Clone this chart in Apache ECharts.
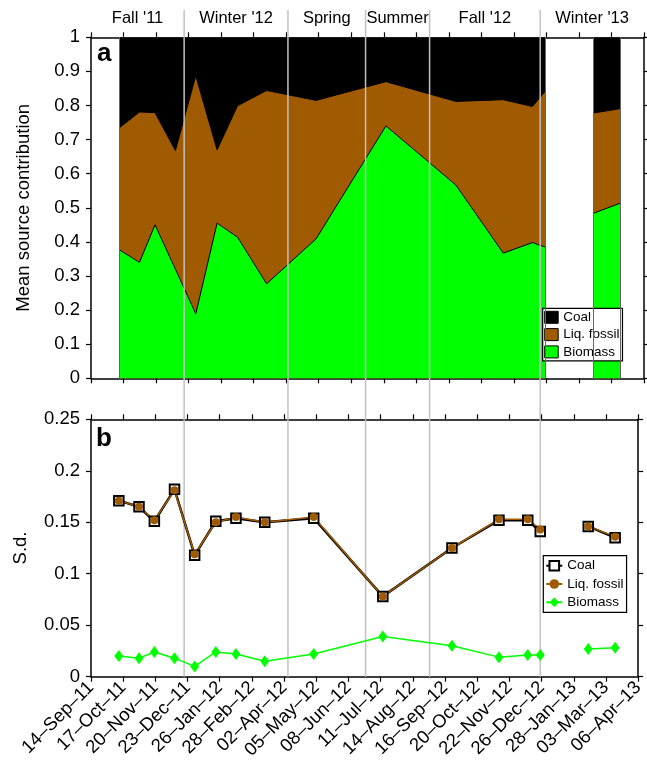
<!DOCTYPE html>
<html><head><meta charset="utf-8">
<script src="https://cdn.jsdelivr.net/npm/echarts@6/dist/echarts.min.js"></script>
<style>html,body{margin:0;padding:0;background:#fff}#c{width:647px;height:766px}</style>
</head><body><div id="c"></div>
<script>
// ---------------- DATA ----------------
const sampleDates = ['2011-10-13','2011-11-03','2011-11-19','2011-12-10','2011-12-31','2012-01-22','2012-02-12','2012-03-13','2012-05-03','2012-07-14','2012-09-24','2012-11-12','2012-12-12','2012-12-25','2013-01-15','2013-02-13','2013-03-13'];
// panel a: mean source contribution (fractions)
const biomass   = [0.377,0.340,0.450,0.320,0.189,0.455,0.414,0.277,0.409,0.740,0.567,0.367,0.398,0.385,null,0.484,0.514];
const liqFossil = [0.357,0.441,0.329,0.348,0.698,0.215,0.385,0.567,0.406,0.130,0.245,0.450,0.399,0.456,null,0.294,0.277];
const coal      = [0.266,0.219,0.221,0.332,0.113,0.330,0.201,0.156,0.185,0.130,0.188,0.183,0.203,0.159,null,0.222,0.209];
// panel b: standard deviations
const coalSd      = [0.171,0.165,0.151,0.182,0.118,0.151,0.154,0.150,0.154,0.078,0.125,0.152,0.152,0.141,null,0.146,0.135];
const liqFossilSd = [0.171,0.165,0.152,0.181,0.119,0.150,0.155,0.150,0.155,0.078,0.125,0.153,0.153,0.143,null,0.146,0.136];
const biomassSd   = [0.020,0.018,0.024,0.018,0.010,0.024,0.022,0.015,0.022,0.039,0.030,0.019,0.021,0.021,null,0.027,0.028];
// season boundaries and names
const seasonBounds = ['2011-12-19','2012-04-04','2012-06-23','2012-08-28','2012-12-20'];
const seasonNames = ["Fall '11","Winter '12","Spring","Summer","Fall '12","Winter '13"];
// axis
const axisStart = '2011-09-14', axisEnd = '2013-04-06';
const tickCount = 17;

// ---------------- HELPERS ----------------
function toMs(s){ const p = s.split('-').map(Number); return Date.UTC(p[0], p[1]-1, p[2]); }
const t0 = toMs(axisStart), t1 = toMs(axisEnd);
const unitMs = (t1 - t0) / tickCount;          // one x unit = one tick spacing
function toX(s){ return (toMs(s) - t0) / unitMs; }
const MON = ['Jan','Feb','Mar','Apr','May','Jun','Jul','Aug','Sep','Oct','Nov','Dec'];
function fmtDate(v){
  const d = new Date(t0 + v * unitMs + 60000);
  return String(d.getUTCDate()).padStart(2,'0') + '–' + MON[d.getUTCMonth()] + '–' + String(d.getUTCFullYear() % 100).padStart(2,'0');
}
function pairs(arr){ return sampleDates.map((d,i) => [toX(d), arr[i] == null ? '-' : arr[i]]); }
function cum(){ const arrs = Array.from(arguments); return sampleDates.map((d,i) => arrs.some(a => a[i]==null) ? null : arrs.reduce((s,a)=>s+a[i],0)); }

const FONT = 'Liberation Sans, Arial, Helvetica, sans-serif';
const BROWN = '#A05A00', GREEN = '#00FF00';

function xAx(gridIndex, position, showLabel){
  return {type:'value', gridIndex, position, min:0, max:tickCount, interval:1,
    axisLine:{show:true, onZero:false, lineStyle:{color:'#000', width:1.5}},
    axisTick:{show:true, inside:false, length:5, lineStyle:{color:'#000', width:1.2}},
    axisLabel:{show:showLabel, rotate:45, margin:8, fontSize:18.5, fontFamily:FONT, color:'#000', formatter:fmtDate},
    splitLine:{show:false}};
}
function yAx(gridIndex, position, min, max, interval, name, nameGap){
  const left = position === 'left';
  return {type:'value', gridIndex, position, min, max, interval,
    name: left ? name : '', nameLocation:'middle', nameGap, nameTextStyle:{fontSize:18.5, fontFamily:FONT, color:'#000'},
    axisLine:{show:true, onZero:false, lineStyle:{color:'#000', width:1.5}},
    axisTick:{show:true, inside:false, length:5, lineStyle:{color:'#000', width:1.2}},
    axisLabel:{show:left, margin:11, fontSize:18.5, fontFamily:FONT, color:'#000'},
    splitLine:{show:false}};
}

// edges of data runs (for thin patch-edge lines in panel a)
const edges = [];
biomass.forEach((v,i) => {
  if (v == null) return;
  if (i === 0 || biomass[i-1] == null) edges.push(sampleDates[i]);
  if (i === biomass.length-1 || biomass[i+1] == null) edges.push(sampleDates[i]);
});

const topAll = cum(biomass, liqFossil, coal);
const topLiq = cum(biomass, liqFossil);

const chart = echarts.init(document.getElementById('c'), null, {renderer:'canvas'});
const option = {
  animation:false,
  backgroundColor:'#fff',
  textStyle:{fontFamily:FONT},
  grid:[
    {left:91, right:3, top:37.3, height:341},
    {left:91, right:3, top:419.3, height:257.4}
  ],
  xAxis:[ xAx(0,'bottom',false), xAx(0,'top',false), xAx(1,'bottom',true), xAx(1,'top',false) ],
  yAxis:[
    yAx(0,'left',0,1,0.1,'Mean source contribution',58),
    yAx(0,'right',0,1,0.1,'',0),
    yAx(1,'left',0,0.25,0.05,'S.d.',61),
    yAx(1,'right',0,0.25,0.05,'',0)
  ],
  legend:[
    {left:542.7, top:308.3, orient:'vertical', selectedMode:false,
     backgroundColor:'#fff', borderColor:'#000', borderWidth:1.2, borderRadius:0,
     padding:[2,3,2,1.5], itemWidth:13.5, itemHeight:12, itemGap:3.3,
     textStyle:{fontSize:13.5, fontFamily:FONT, color:'#000'},
     formatter: n => n.trim(),
     data:[
       {name:'Coal', icon:'rect', itemStyle:{color:'#000', borderColor:'#000', borderWidth:1}},
       {name:'Liq. fossil', icon:'rect', itemStyle:{color:BROWN, borderColor:'#000', borderWidth:1}},
       {name:'Biomass', icon:'rect', itemStyle:{color:GREEN, borderColor:'#000', borderWidth:1}}
     ]},
    {left:543.3, top:555.7, orient:'vertical', selectedMode:false,
     backgroundColor:'#fff', borderColor:'#000', borderWidth:1.2, borderRadius:0,
     padding:[3,3,3,2], itemWidth:16, itemHeight:12, itemGap:4.3,
     textStyle:{fontSize:13.5, fontFamily:FONT, color:'#000'},
     formatter: n => n.trim(),
     data:['Coal ','Liq. fossil ','Biomass ']}
  ],
  series:[
    {name:'Coal', type:'line', xAxisIndex:0, yAxisIndex:0, data:pairs(topAll), symbol:'none',
     itemStyle:{color:'#000'}, lineStyle:{width:0, color:'#000'}, areaStyle:{color:'#000', opacity:1, origin:'start'}},
    {name:'Liq. fossil', type:'line', xAxisIndex:0, yAxisIndex:0, data:pairs(topLiq), symbol:'none',
     itemStyle:{color:BROWN}, lineStyle:{width:1, color:'#000'}, areaStyle:{color:BROWN, opacity:1, origin:'start'}},
    {name:'Biomass', type:'line', xAxisIndex:0, yAxisIndex:0, data:pairs(biomass), symbol:'none',
     itemStyle:{color:GREEN}, lineStyle:{width:1, color:'#000'}, areaStyle:{color:GREEN, opacity:1, origin:'start'},
     markLine:{silent:true, symbol:'none', label:{show:false}, lineStyle:{color:'#666', width:1, type:'solid'},
       data: edges.map(d => [{coord:[toX(d),0]},{coord:[toX(d),1]}])}},
    {name:'Coal ', type:'line', xAxisIndex:2, yAxisIndex:2, data:pairs(coalSd), symbol:'rect', symbolSize:9.5,
     itemStyle:{color:'#fff', borderColor:'#000', borderWidth:2}, lineStyle:{color:'#000', width:2.5}},
    {name:'Liq. fossil ', type:'line', xAxisIndex:2, yAxisIndex:2, data:pairs(liqFossilSd), symbol:'circle', symbolSize:8,
     itemStyle:{color:BROWN, borderColor:BROWN, borderWidth:0}, lineStyle:{color:BROWN, width:1.5}},
    {name:'Biomass ', type:'line', xAxisIndex:2, yAxisIndex:2, data:pairs(biomassSd), symbol:'diamond', symbolSize:[9,12],
     itemStyle:{color:GREEN}, lineStyle:{color:GREEN, width:1.5}}
  ]
};
chart.setOption(option);

// season lines and labels (positions from the axis scale)
const gtop1 = chart.convertToPixel({yAxisIndex:2}, 0.25);
const gbot1 = chart.convertToPixel({yAxisIndex:2}, 0);
const bx = [0].concat(seasonBounds.map(toX)).concat([tickCount]);
const graphics = [];
seasonBounds.forEach(b => {
  const x = chart.convertToPixel({xAxisIndex:0}, toX(b));
  graphics.push({type:'line', silent:true, z:100, shape:{x1:x, y1:10, x2:x, y2:gtop1}, style:{stroke:'#c2c2c2', lineWidth:1.5}});
  graphics.push({type:'line', silent:true, z:1, shape:{x1:x, y1:gtop1, x2:x, y2:gbot1}, style:{stroke:'#c2c2c2', lineWidth:1.5}});
});
seasonNames.forEach((n,i) => {
  const xa = chart.convertToPixel({xAxisIndex:0}, bx[i]);
  const xb = chart.convertToPixel({xAxisIndex:0}, bx[i+1]);
  graphics.push({type:'text', silent:true, z:100, x:(xa+xb)/2, y:18.5,
    style:{text:n, fontSize:16.5, fontFamily:FONT, fill:'#000', align:'center', verticalAlign:'middle'}});
});
graphics.push({type:'text', silent:true, z:100, x:97, y:54, style:{text:'a', fontSize:26, fontWeight:'bold', fontFamily:FONT, fill:'#000', align:'left', verticalAlign:'middle'}});
graphics.push({type:'text', silent:true, z:100, x:96, y:439, style:{text:'b', fontSize:26, fontWeight:'bold', fontFamily:FONT, fill:'#000', align:'left', verticalAlign:'middle'}});
chart.setOption({graphic:graphics});
</script>
</body></html>
